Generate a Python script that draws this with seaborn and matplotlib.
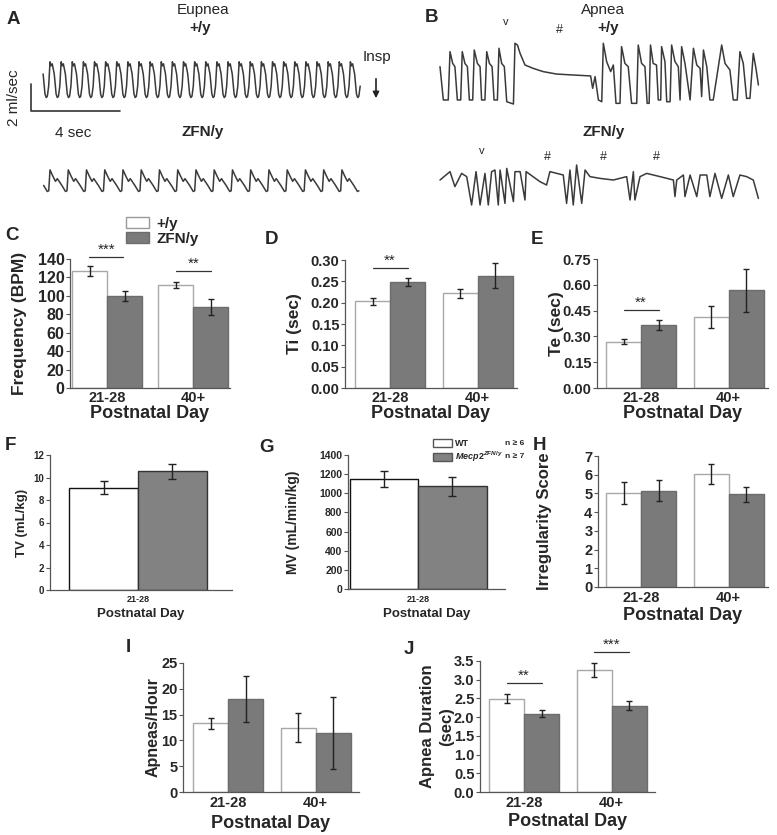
import numpy as np
import pandas as pd
import matplotlib
matplotlib.use('Agg')
import matplotlib.pyplot as plt
import seaborn as sns
from matplotlib.patches import Patch
from matplotlib.ticker import FormatStrFormatter

W, H = 777, 835

ages = ['21-28', '40+']
genotypes = ['+/y', 'ZFN/y']

# bar values, order: (+/y 21-28, ZFN/y 21-28, +/y 40+, ZFN/y 40+)
freq_mean = [127, 100, 112, 88]
freq_err = [5.4, 5.4, 3.0, 8.5]
ti_mean = [0.203, 0.248, 0.222, 0.263]
ti_err = [0.008, 0.009, 0.010, 0.029]
te_mean = [0.270, 0.366, 0.410, 0.567]
te_err = [0.015, 0.028, 0.064, 0.127]
irr_mean = [5.02, 5.15, 6.02, 4.95]
irr_err = [0.58, 0.58, 0.53, 0.42]
apn_mean = [13.3, 18.0, 12.5, 11.4]
apn_err = [1.1, 4.5, 2.8, 7.0]
dur_mean = [2.49, 2.09, 3.26, 2.31]
dur_err = [0.12, 0.09, 0.19, 0.13]
# F, G: one age group (WT, Mecp2 ZFN/y)
tv_mean = [9.1, 10.55]
tv_err = [0.6, 0.65]
mv_mean = [1150, 1075]
mv_err = [88, 100]

# eupnea traces: one breath (phase of cycle, flow ml/sec)
eup_wt_phase = [0.0, 0.10, 0.20, 0.38, 0.55, 0.66, 0.76, 0.88]
eup_wt_flow = [1.2, 0.9, 1.05, 0.3, -1.2, -1.45, -1.35, -0.6]
eup_wt_period = 0.50
eup_wt_breaths = 29
eup_zfn_phase = [0.0, 0.15, 0.30, 0.40, 0.65, 0.85, 0.93]
eup_zfn_flow = [0.75, 0.3, -0.1, 0.1, -0.4, -0.85, -0.8]
eup_zfn_period = 0.82
eup_zfn_breaths = 18
trace_len = 14.3

# apnea traces (time sec, flow ml/sec)
apn_wt_t = [0, 0.15, 0.37, 0.45, 0.57, 0.67, 0.78, 0.93, 1.00, 1.12, 1.23, 1.32, 1.47,
            1.54, 1.68, 1.80, 1.87, 2.02, 2.10, 2.22, 2.34, 2.43, 2.58, 2.65, 2.77, 2.89,
            3.00, 3.30, 3.37, 3.48, 3.60, 3.82, 4.19, 4.64, 5.24, 5.99, 6.77, 6.86, 6.97,
            7.12, 7.27, 7.34, 7.49, 7.67, 7.79, 7.91, 8.09, 8.16, 8.31, 8.46, 8.61, 8.84,
            8.91, 9.06, 9.21, 9.31, 9.40, 9.46, 9.58, 9.73, 9.81, 9.92, 9.96, 10.11, 10.19,
            10.34, 10.41, 10.56, 10.71, 10.79, 10.86, 11.01, 11.24, 11.39, 11.54, 11.69,
            11.76, 11.84, 11.99, 12.13, 12.28, 12.66, 12.81, 13.03, 13.18, 13.36, 13.48,
            13.63, 13.78, 13.93, 14.08, 14.20, 14.31]
apn_wt_f = [0.62, -1.85, -1.85, 1.73, 0.86, 0.62, -1.85, -1.85, 1.73, 0.86, 0.62, -1.85, -1.85,
            1.85, 0.86, 0.62, -1.85, -1.85, 1.73, 0.86, 0.62, -1.85, -1.85, 1.98, 0.86, 0.62,
            -1.98, -2.15, 2.35, 2.22, 1.60, 0.74, 0.49, 0.25, 0.07, 0.0, -0.07, -0.99, -0.12,
            -1.85, -1.98, 2.35, 0.99, 0.25, 0.74, -2.10, -2.10, 2.10, 0.86, 0.62, -2.10, -2.10,
            2.22, 0.86, 0.62, -2.10, -2.10, 2.22, 0.86, 0.74, -1.85, -1.85, 2.10, 0.99, -1.98,
            -1.98, 2.22, 0.99, 0.62, -1.85, 2.10, 0.86, -1.85, 1.98, 0.74, 0.49,
            -1.60, 1.85, 0.62, -1.85, -1.85, 2.22, 0.86, 0.37, -1.85, -1.85, 1.73,
            0.86, -1.73, -1.73, 1.60, 0.49, -0.74]
apn_zfn_t = [0, 0.45, 0.67, 0.97, 1.20, 1.42, 1.62, 1.80, 2.02, 2.17, 2.32, 2.47, 2.62, 2.70,
             2.92, 3.00, 3.30, 3.37, 3.60, 3.82, 3.87, 4.49, 4.79, 4.94, 5.54, 5.69, 5.84,
             5.99, 6.14, 6.37, 6.52, 6.74, 7.19, 7.79, 8.39, 8.54, 8.69, 8.76, 8.99, 9.29,
             9.89, 10.49, 10.56, 10.64, 10.94, 11.01, 11.24, 11.54, 11.69, 11.99, 12.13,
             12.36, 12.66, 12.96, 13.18, 13.48, 13.78, 14.08, 14.31]
apn_zfn_f = [0.37, 0.99, -0.12, 0.86, 0.62, -1.48, 0.99, -1.48, 0.86, -1.48, 0.99, 1.11, -1.48,
             1.11, -1.36, 1.23, -1.23, 0.99, 0.99, -1.11, 0.99, 0.25, 0.0, 0.99, 0.74, -1.36,
             1.11, -1.48, 1.48, -1.36, 1.11, 0.62, 0.49, 0.37, 0.62, -1.11, 0.99, -1.11, 0.62,
             0.86, 0.62, 0.37, -0.86, 0.37, 0.74, -0.86, 0.74, -0.86, 0.74, 0.74, -0.86,
             0.86, -0.99, 0.74, -0.86, 0.74, 0.62, 0.37, -0.99]

sns.set_theme(style='ticks')
plt.rcParams['font.family'] = ['Liberation Sans', 'DejaVu Sans']
plt.rcParams['font.weight'] = 'bold'
plt.rcParams['axes.labelweight'] = 'bold'
plt.rcParams['mathtext.fontset'] = 'custom'
plt.rcParams['mathtext.it'] = 'Liberation Sans:italic:bold'
plt.rcParams['mathtext.rm'] = 'Liberation Sans:bold'

fig = plt.figure(figsize=(W / 100, H / 100), dpi=100)


def fx(px):
    return px / W


def fy(py):
    return 1 - py / H


def axes_px(left, top, right, bottom):
    return fig.add_axes([fx(left), fy(bottom), (right - left) / W, (bottom - top) / H])


def breaths(phase, flow, period, n, first_peak):
    t = np.concatenate([first_peak + (k - 1) * period + np.array(phase) * period for k in range(n)])
    f = np.tile(flow, n)
    keep = (t >= 0) & (t <= trace_len)
    return t[keep], f[keep]


TRACE = '#3a3a3a'
px_s = 22.25   # px per sec
px_f = 13.5    # px per ml/sec

# ---- A: eupnea
axA = axes_px(0, 40, 400, 205)
axA.set_xlim(-42 / px_s, (400 - 42) / px_s)
axA.set_ylim((78 - 205) / px_f, (78 - 40) / px_f)
axA.axis('off')
t1, f1 = breaths(eup_wt_phase, eup_wt_flow, eup_wt_period, eup_wt_breaths, 0.36)
t2, f2 = breaths(eup_zfn_phase, eup_zfn_flow, eup_zfn_period, eup_zfn_breaths, 0.36)
off = -(180 - 78) / px_f
sns.lineplot(x=t1, y=f1, ax=axA, color=TRACE, lw=1.1, sort=False, estimator=None)
sns.lineplot(x=t2, y=f2 + off, ax=axA, color=TRACE, lw=1.1, sort=False, estimator=None)
# scale bar: 2 ml/sec, 4 sec
axA.plot([-0.5, -0.5, 3.5], [-0.44, -2.44, -2.44], color='#333', lw=1.2, clip_on=False)

# ---- B: apnea
axB = axes_px(400, 30, 777, 212)
axB.set_xlim(-40 / px_s, (777 - 440) / px_s)
axB.set_ylim((75 - 212) / px_f, (75 - 30) / px_f)
axB.axis('off')
offB = -(185 - 75) / px_f
sns.lineplot(x=apn_wt_t, y=apn_wt_f, ax=axB, color=TRACE, lw=1.1, sort=False, estimator=None)
sns.lineplot(x=apn_zfn_t, y=np.array(apn_zfn_f) + offB, ax=axB, color=TRACE, lw=1.1,
             sort=False, estimator=None)

# texts for traces
fig.text(fx(203), fy(10), 'Eupnea', ha='center', va='center', fontsize=11, fontweight='normal')
fig.text(fx(200), fy(28), '+/y', ha='center', va='center', fontsize=11)
fig.text(fx(203), fy(132), 'ZFN/y', ha='center', va='center', fontsize=11)
fig.text(fx(377), fy(57), 'Insp', ha='center', va='center', fontsize=11, fontweight='normal')
fig.text(fx(14), fy(98), '2 ml/sec', ha='center', va='center', rotation=90, fontsize=11,
         fontweight='normal')
fig.text(fx(73), fy(133), '4 sec', ha='center', va='center', fontsize=11, fontweight='normal')
fig.patches.append(matplotlib.patches.FancyArrowPatch(
    (fx(376), fy(76)), (fx(376), fy(101)), transform=fig.transFigure,
    arrowstyle='-|>', mutation_scale=9, color='#222', lw=1.2))
fig.text(fx(603), fy(10), 'Apnea', ha='center', va='center', fontsize=11, fontweight='normal')
fig.text(fx(608), fy(28), '+/y', ha='center', va='center', fontsize=11)
fig.text(fx(604), fy(132), 'ZFN/y', ha='center', va='center', fontsize=11)
for x, y in [(506, 22), (482, 151)]:
    fig.text(fx(x), fy(y), 'v', ha='center', va='center', fontsize=8, fontweight='normal')
for x, y in [(559, 30), (547, 157), (603, 157), (656, 157)]:
    fig.text(fx(x), fy(y), '#', ha='center', va='center', fontsize=9, fontweight='normal')

# panel letters
for lab, x, y in [('A', 13, 19), ('B', 432, 17), ('C', 12, 236), ('D', 271, 240),
                  ('E', 537, 240), ('F', 10, 445), ('G', 266, 447), ('H', 539, 445),
                  ('I', 128, 648), ('J', 409, 650)]:
    fig.text(fx(x), fy(y), lab, ha='center', va='center', fontsize=13.5)


def bar_panel(box, means, errs, centers, group_px, width, ylim, ystep, fmt, ylabel,
              ylabel_x, tick_fs, label_fs, xtick_fs, xlabel_fs, xtick_y, xlabel_y,
              white_edge, grey_face, grey_edge, n_age=2, cap=2.5):
    left, top, right, bottom = box
    ax = axes_px(left, top, right, bottom)
    df = pd.DataFrame({
        'age': [a for a in ages[:n_age] for g in genotypes],
        'geno': genotypes * n_age,
        'value': means,
    })
    sns.barplot(data=df, x='age', y='value', hue='geno', hue_order=genotypes,
                palette=['white', grey_face], width=width, errorbar=None, ax=ax,
                legend=False, saturation=1)
    edges = [white_edge, grey_edge]
    bar_sets = list(ax.containers)
    for hi, cont in enumerate(bar_sets):
        for ai, p in enumerate(cont):
            p.set_edgecolor(edges[hi])
            p.set_linewidth(1.0)
            k = ai * 2 + hi
            ax.errorbar(p.get_x() + p.get_width() / 2, p.get_height(), yerr=errs[k],
                        color='#222', lw=1.0, capsize=cap, capthick=1.0)
    sp = group_px / width
    c1 = centers[0]
    ax.set_xlim((left - c1) / sp, (right - c1) / sp)
    ax.set_ylim(*ylim)
    ax.set_yticks(np.arange(ylim[0], ylim[1] + ystep / 2, ystep))
    if fmt:
        ax.yaxis.set_major_formatter(FormatStrFormatter(fmt))
    sns.despine(ax=ax)
    for s in ['left', 'bottom']:
        ax.spines[s].set_color('#555')
        ax.spines[s].set_linewidth(0.9)
    ax.tick_params(axis='y', length=3, width=0.8, color='#555', labelsize=tick_fs, pad=1)
    ax.tick_params(axis='x', length=0, labelsize=xtick_fs, pad=0)
    for lbl in ax.get_xticklabels() + ax.get_yticklabels():
        lbl.set_fontweight('bold')
    hpx = bottom - top
    for lbl in ax.get_xticklabels():
        lbl.set_va('center')
    ax.tick_params(axis='x', pad=(xtick_y - bottom) * 0.72)
    ax.set_ylabel(ylabel, fontsize=label_fs, linespacing=1.35)
    ax.yaxis.set_label_coords((ylabel_x - left) / (right - left), 0.5)
    ax.yaxis.label.set_va('center')
    ax.set_xlabel('Postnatal Day', fontsize=xlabel_fs)
    ax.xaxis.set_label_coords(0.5, (bottom - xlabel_y) / hpx)
    ax.xaxis.label.set_va('center')
    return ax


def sig(ax, x0, x1, y, stars, fs=11):
    ax.plot([x0, x1], [y, y], color='#333', lw=0.9, clip_on=False)
    ax.text((x0 + x1) / 2, y, stars, ha='center', va='bottom', fontsize=fs,
            fontweight='normal', clip_on=False)


GREY = '#7a7a7a'
GREY_E = '#6c6c6c'
WH_E = '#a8a8a8'

axC = bar_panel((70, 259, 230, 388), freq_mean, freq_err, (107, 193), 70, 0.81, (0, 140), 20,
                None, 'Frequency (BPM)', 20, 11.5, 12.5, 10.5, 13, 398, 413, WH_E, GREY, GREY_E)
sig(axC, -0.21, 0.19, 142, '***')
sig(axC, 0.80, 1.20, 127, '**')
axC.legend(handles=[Patch(facecolor='white', edgecolor='#999'),
                    Patch(facecolor=GREY, edgecolor=GREY_E)],
           labels=genotypes, loc='upper left', bbox_to_anchor=(fx(126), fy(217)),
           bbox_transform=fig.transFigure, frameon=False, handlelength=1.5,
           handleheight=0.75, handletextpad=0.5, labelspacing=0.05, borderpad=0,
           borderaxespad=0, prop={'weight': 'bold', 'size': 11})

axD = bar_panel((345, 260, 517, 388), ti_mean, ti_err, (390, 477), 70, 0.80, (0, 0.30), 0.05,
                '%.2f', 'Ti (sec)', 295, 10.5, 12.5, 10.5, 13, 398, 413, WH_E, GREY, GREY_E)
sig(axD, -0.2, 0.2, 0.281, '**')

axE = bar_panel((597, 259, 768, 388), te_mean, te_err, (641, 728), 70, 0.80, (0, 0.75), 0.15,
                '%.2f', 'Te (sec)', 556, 10.5, 12.5, 10.5, 13, 398, 413, WH_E, GREY, GREY_E)
sig(axE, -0.2, 0.2, 0.453, '**')

axF = bar_panel((50, 455, 232, 590), tv_mean, tv_err, (138,), 137, 0.80, (0, 12), 2,
                None, 'TV (mL/kg)', 22, 7, 9.5, 6.5, 9.5, 600, 614, '#111', '#828282', '#333',
                n_age=1, cap=3)

axG = bar_panel((348, 455, 505, 589), mv_mean, mv_err, (418,), 137, 0.80, (0, 1400), 200,
                None, 'MV (mL/min/kg)', 293, 7.5, 10, 6.5, 9.5, 600, 614, '#111', '#828282',
                '#333', n_age=1, cap=3)
axG.legend(handles=[Patch(facecolor='white', edgecolor='#555'),
                    Patch(facecolor='#828282', edgecolor='#555')],
           labels=['WT', r'$\mathit{Mecp2}^{ZFN/y}$'], loc='upper left',
           bbox_to_anchor=(fx(433), fy(439)), bbox_transform=fig.transFigure, frameon=False,
           handlelength=2.1, handleheight=0.9, handletextpad=0.3, labelspacing=0.2,
           borderpad=0, borderaxespad=0, prop={'weight': 'bold', 'size': 6.5})
fig.text(fx(505), fy(444), 'n \u2265 6', ha='left', va='center', fontsize=6)
fig.text(fx(505), fy(456), 'n \u2265 7', ha='left', va='center', fontsize=6)

axH = bar_panel((598, 456, 768, 587), irr_mean, irr_err, (641, 728), 70, 0.80, (0, 7), 1,
                None, 'Irregularity Score', 545, 10.5, 12, 10.5, 13, 598, 615, WH_E, GREY,
                GREY_E)

axI = bar_panel((183, 663, 359, 792), apn_mean, apn_err, (228, 315), 70, 0.80, (0, 25), 5,
                None, 'Apneas/Hour', 153, 10.5, 11.5, 10.5, 13, 803, 823, WH_E, GREY, GREY_E)

axJ = bar_panel((480, 661, 655, 792), dur_mean, dur_err, (524, 612), 70, 0.80, (0, 3.5), 0.5,
                '%.1f', 'Apnea Duration\n(sec)', 437, 10.5, 12, 10.5, 13, 803, 822, WH_E, GREY,
                GREY_E)
sig(axJ, -0.2, 0.2, 2.91, '**')
sig(axJ, 0.8, 1.2, 3.74, '***')

fig.savefig('out.png', dpi=100, facecolor='white')
